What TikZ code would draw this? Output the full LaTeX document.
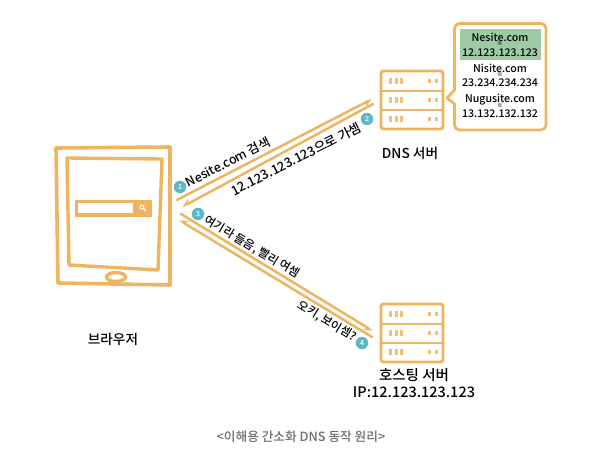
\documentclass[tikz,border=0pt]{standalone}
\usepackage{fontspec}
\setmainfont{Noto Sans CJK KR}[UprightFont=* Medium]
\usetikzlibrary{arrows.meta}

\definecolor{lineorange}{HTML}{EFB45F}
\definecolor{badgeteal}{HTML}{5FB8C6}
\definecolor{hostgreen}{HTML}{9CCBA6}
\definecolor{captiongray}{HTML}{6E6E6E}

\tikzset{
    wire/.style={draw=lineorange, line width=2.8pt},
    flow/.style={draw=lineorange, line width=2.5pt, -{Stealth[harpoon,swap,length=8pt,width=9pt]}},
    badge/.style={circle, fill=badgeteal, text=white, inner sep=0pt, minimum size=12.5pt, font=\fontsize{7}{7}\selectfont},
    lab/.style={inner sep=0pt, text=black, font=\fontsize{11.7}{11.7}\selectfont},
    ent/.style={inner sep=0pt, text=black, align=center, font=\fontsize{10.6}{14.7}\selectfont},
    eqs/.style={inner sep=0pt, text=black, font=\fontsize{8}{8}\selectfont},
}

% Un server: scatola con tre ripiani
\newcommand{\serverbox}[2]{
    \draw[wire, rounded corners=2.5pt] (#1,#2) rectangle ++(62,58);
    \draw[wire] (#1,#2+20) -- ++(62,0);
    \draw[wire] (#1,#2+39) -- ++(62,0);
    \foreach \row in {10,29,48} {
        \foreach \col in {8,13.5,19} {
            \fill[lineorange!85] (#1+\col,#2+\row-3) rectangle ++(3.2,6);
        }
        \foreach \col in {47,54} {
            \fill[lineorange!85] (#1+\col,#2+\row-1.5) rectangle ++(3.2,3.2);
        }
    }
}

\begin{document}
\begin{tikzpicture}[
    x=1pt,
    y=-1pt,
    line cap=round,
    line join=round
]
\useasboundingbox (0,0) rectangle (590,449);
\fill[white] (0,0) rectangle (590,449);

% Tablet
\draw[wire, line width=3.6pt] (56,148) -- (170,147) -- (170,285) -- (58,283) -- cycle;
\draw[wire, line width=3.4pt] (67,158) -- (162,159) -- (158,270) -- (69,265) -- cycle;
\fill[lineorange] (75,200) rectangle (152,217);
\fill[white] (78,203.5) rectangle (133,213.5);
\draw[white, line width=1pt] (142,207) circle (2pt);
\draw[white, line width=1.2pt] (143.5,208.5) -- (146,211);
\draw[wire, line width=3.4pt, fill=white] (116,277) ellipse (9.5pt and 4.5pt);

% Server
\serverbox{381}{71}
\serverbox{381}{304}

% Fumetto
\draw[wire, rounded corners=5pt] (454.5,90) -- (454.5,23.5) -- (546,23.5) -- (546,130) -- (454.5,130) -- (454.5,104);
\draw[wire] (454.5,90) -- (447,98) -- (454.5,104);
\fill[hostgreen] (460,29) rectangle (541,60);

% Testi del fumetto
\node[ent] (nesite) at (500,45) {Nesite.com\\12.123.123.123};
\node[ent] (nisite) at (500,75.5) {Nisite.com\\23.234.234.234};
\node[ent] (nugusite) at (500,106) {Nugusite.com\\13.132.132.132};
\node[eqs] (eqa) at (500,44.5) {=};
\node[eqs] (eqb) at (500,75.5) {=};
\node[eqs] (eqc) at (500,106.5) {=};

% Frecce
\coordinate (browsertop) at (177,200);
\coordinate (dnsin) at (372,99);
\coordinate (dnsout) at (373,104);
\coordinate (browserdns) at (182,207);
\coordinate (browserlow) at (181,214);
\coordinate (hostin) at (373,331);
\coordinate (hostout) at (372,337);
\coordinate (browserhost) at (179,220);
\draw[flow] (browsertop) -- (dnsin);
\draw[flow] (dnsout) -- (browserdns);
\draw[flow] (browserlow) -- (hostin);
\draw[flow] (hostout) -- (browserhost);

% Etichette sulle frecce
\node[lab, rotate=27, font=\fontsize{12.5}{12.5}\selectfont] (search) at (228,162) {Nesite.com 검색};
\node[lab, rotate=27, font=\fontsize{13}{13}\selectfont] (reply) at (296,159) {12.123.123.123으로 가셈};
\node[lab, rotate=-31] (come) at (252,247) {여기라 들음, 빨리 여셈};
\node[lab, rotate=-31] (okay) at (327,321) {오키, 보이셈?};

% Numeri
\node[badge] (one) at (180,187) {1};
\node[badge] (two) at (367,119) {2};
\node[badge] (three) at (198,214) {3};
\node[badge] (four) at (362,343) {4};

% Nomi
\node[lab, font=\fontsize{13.6}{13.6}\selectfont] (browser) at (113,339) {브라우저};
\node[lab, font=\fontsize{13.7}{13.7}\selectfont] (dns) at (410,153) {DNS 서버};
\node[lab, align=center, font=\fontsize{14.5}{16.5}\selectfont] (host) at (414,383) {호스팅 서버\\IP:12.123.123.123};
\node[lab, text=captiongray, font=\fontsize{12.7}{12.7}\selectfont] (caption) at (301,437) {<이해용 간소화 DNS 동작 원리>};

\end{tikzpicture}
\end{document}
